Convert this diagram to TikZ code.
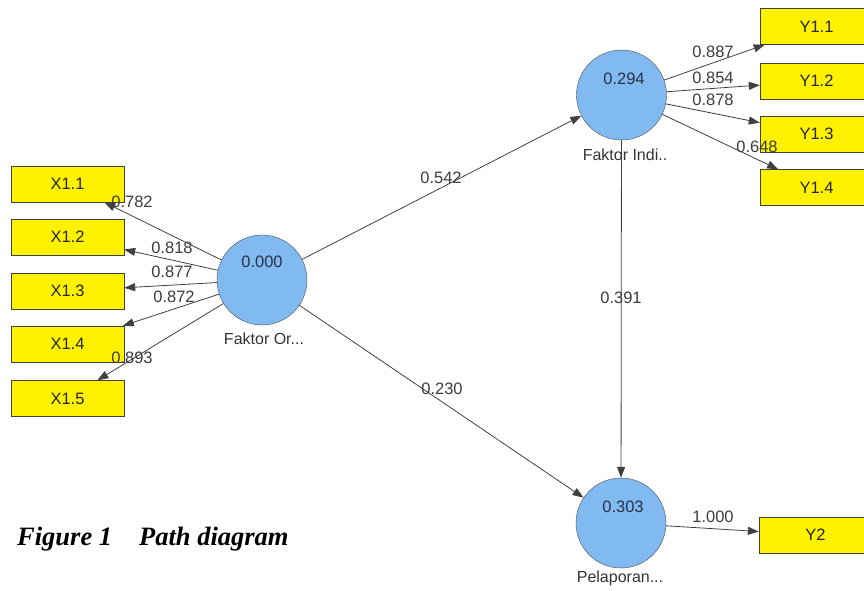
\documentclass[tikz,border=0pt]{standalone}
\usepackage{fontspec}
\setmainfont{Liberation Sans}
\newfontfamily\capfont{Liberation Serif}
\usetikzlibrary{arrows.meta}
\definecolor{lvfill}{RGB}{128,186,240}
\definecolor{valcol}{RGB}{40,50,72}
\definecolor{wtcol}{RGB}{60,60,60}
\begin{document}
\begin{tikzpicture}[x=1pt,y=-1pt,
  every node/.style={font=\fontsize{16.5}{19}\selectfont},
  mv/.style={draw=black!75, fill=yellow, minimum width=113pt, minimum height=36pt, inner sep=0pt, text=black!85},
  lv/.style={circle, draw=black!70, fill=lvfill, minimum size=90pt, inner sep=0pt},
  arr/.style={draw=black!75, line width=0.8pt, -{Triangle[length=11pt,width=8pt]}},
  wt/.style={text=wtcol, inner sep=0pt},
  val/.style={text=valcol, inner sep=0pt},
  lvlab/.style={text=black!80, inner sep=0pt, font=\fontsize{16}{18}\selectfont},
]
\useasboundingbox (0,0) rectangle (864,590);
\clip (0,0) rectangle (864,590);

% indicator boxes
\node[mv] (X11) at (67.5,184) {X1.1};
\node[mv] (X12) at (67.5,237) {X1.2};
\node[mv] (X13) at (67.5,291) {X1.3};
\node[mv] (X14) at (67.5,344) {X1.4};
\node[mv] (X15) at (67.5,398.5) {X1.5};
\node[mv] (Y11) at (816.5,26.5) {Y1.1};
\node[mv] (Y12) at (816.5,81) {Y1.2};
\node[mv] (Y13) at (816.5,134) {Y1.3};
\node[mv] (Y14) at (816.5,187.5) {Y1.4};
\node[mv] (Y2) at (815.5,535) {Y2};

% latent variables
\node[lv] (FO) at (262,280) {};
\node[lv] (FI) at (621.5,95) {};
\node[lv] (PL) at (621,523) {};

% connectors
\draw[arr] (FO) -- (X11);
\draw[arr] (FO) -- (X12);
\draw[arr] (FO) -- (X13);
\draw[arr] (FO) -- (X14);
\draw[arr] (FO) -- (X15);
\draw[arr] (FI) -- (Y11);
\draw[arr] (FI) -- (Y12);
\draw[arr] (FI) -- (Y13);
\draw[arr] (FI) -- (Y14);
\draw[arr] (PL) -- (Y2);
\draw[arr] (FO) -- (FI);
\draw[arr] (FO) -- (PL);
\draw[arr] (FI) -- (PL);

% values inside circles
\node[val] (vFO) at (262,262) {0.000};
\node[val] (vFI) at (624,79) {0.294};
\node[val] (vPL) at (623,507) {0.303};

% circle labels
\node[lvlab] (lFO) at (264,339) {Faktor Or...};
\node[lvlab] (lFI) at (625,155) {Faktor Indi..};
\node[lvlab] (lPL) at (620,578) {Pelaporan...};

% weights
\node[wt] (w1) at (132,202) {0.782};
\node[wt] (w2) at (172,248) {0.818};
\node[wt] (w3) at (172,272) {0.877};
\node[wt] (w4) at (174,297) {0.872};
\node[wt] (w5) at (132,358) {0.893};
\node[wt] (w6) at (713,52) {0.887};
\node[wt] (w7) at (713,78) {0.854};
\node[wt] (w8) at (713,100) {0.878};
\node[wt] (w9) at (757,147) {0.648};
\node[wt] (w10) at (441,178) {0.542};
\node[wt] (w11) at (442,389) {0.230};
\node[wt] (w12) at (621,298) {0.391};
\node[wt] (w13) at (713,517) {1.000};

% caption
\node[anchor=base west, inner sep=0pt, font=\capfont\bfseries\itshape\fontsize{26.5}{30}\selectfont] (cap) at (17,545) {Figure 1\hspace{27pt}Path diagram};
\end{tikzpicture}
\end{document}
